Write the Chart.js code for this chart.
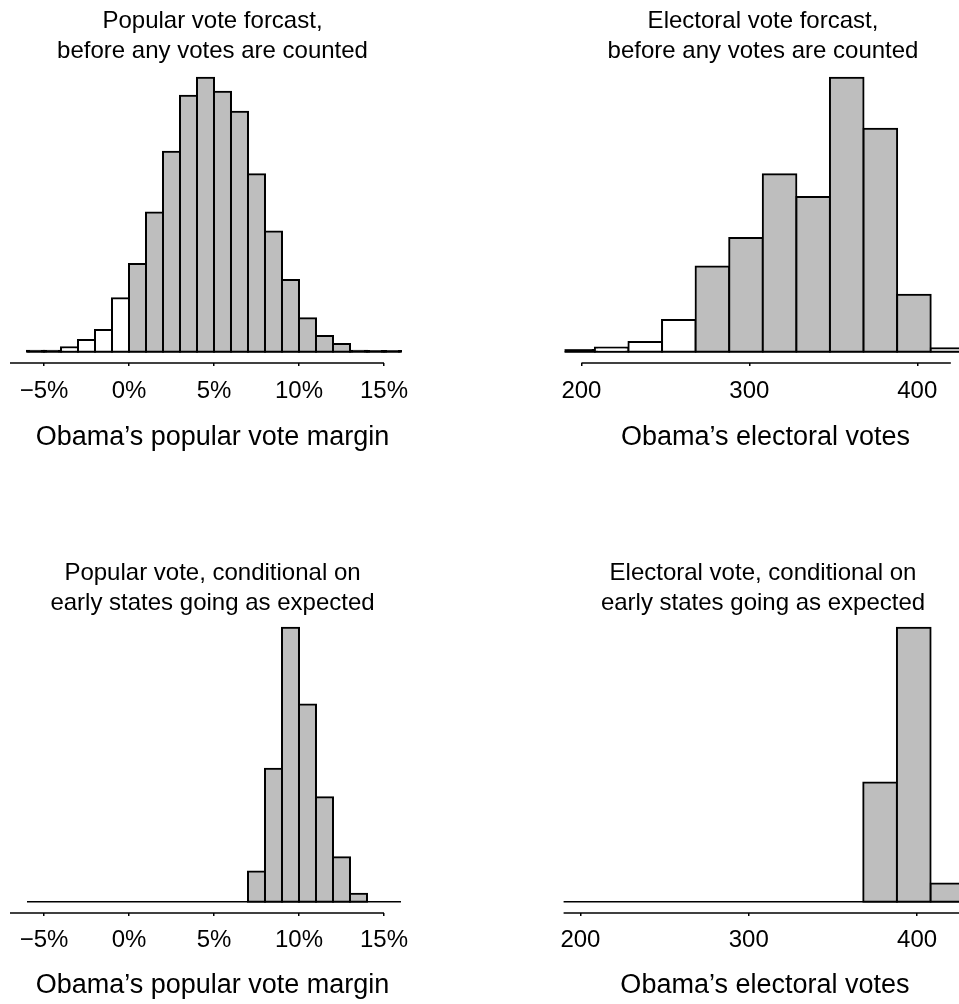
<!DOCTYPE html>
<html>
<head>
<meta charset="utf-8">
<script src="https://cdn.jsdelivr.net/npm/chart.js@4.4.1/dist/chart.umd.min.js"></script>
<style>
  html, body { margin: 0; padding: 0; background: #fff; overflow: hidden; }
  canvas { position: absolute; }
</style>
</head>
<body>
<canvas id="popBefore" width="425" height="458" style="left:0px;top:0px"></canvas>
<canvas id="evBefore" width="426" height="458" style="left:550px;top:0px"></canvas>
<canvas id="popAfter" width="425" height="458" style="left:0px;top:550px"></canvas>
<canvas id="evAfter" width="426" height="458" style="left:550px;top:550px"></canvas>
<script>
// popular vote margin, bins of 1% (lower edges), share of simulations in %
const popBins = [-6, -5, -4, -3, -2, -1, 0, 1, 2, 3, 4, 5, 6, 7, 8, 9, 10, 11, 12, 13, 14, 15];
const popBefore = [0.05, 0.05, 0.22, 0.59, 1.10, 2.70, 4.43, 7.04, 10.11, 12.94, 13.85, 13.14,
  12.13, 8.97, 6.07, 3.62, 1.69, 0.79, 0.39, 0.05, 0.03, 0.03];
const popAfter = [0, 0, 0, 0, 0, 0, 0, 0, 0, 0, 0, 0, 0, 3.8, 16.8, 34.6, 24.9, 13.2, 5.6, 1.0, 0, 0];

// electoral votes, bins of 20 (lower edges)
const evBins = [188, 208, 228, 248, 268, 288, 308, 328, 348, 368, 388, 408];
const evBefore = [0.15, 0.38, 0.85, 2.8, 7.5, 10.0, 15.6, 13.6, 24.1, 19.6, 5.0, 0.3];
const evAfter = [0, 0, 0, 0, 0, 0, 0, 0, 0, 29.0, 66.6, 4.4];

const popTicks = [-5, 0, 5, 10, 15];
const popTickLabels = ['\u22125%', '0%', '5%', '10%', '15%'];
const evTicks = [200, 300, 400];
const evTickLabels = ['200', '300', '400'];

Chart.defaults.font.family = "'Liberation Sans', Arial, sans-serif";
Chart.defaults.color = '#000';

const GRAY = '#bebebe';

// axis line under the histogram, R style (offset below the bars)
const axisLine = {
  id: 'axisLine',
  afterDraw(chart, args, opts) {
    const {ctx, chartArea, scales: {x}} = chart;
    ctx.save();
    ctx.strokeStyle = '#000';
    ctx.lineWidth = 1.5;
    ctx.beginPath();
    ctx.moveTo(x.getPixelForValue(opts.from), chartArea.bottom);
    ctx.lineTo(x.getPixelForValue(opts.to), chartArea.bottom);
    ctx.stroke();
    ctx.restore();
  }
};

function histogram(id, o) {
  const top = Math.max(...o.values);
  const clip = {left: 0, top: 4, right: 4, bottom: 4};
  const shift = o.shift || 0;
  return new Chart(document.getElementById(id), {
    type: 'bar',
    data: {
      datasets: [{
        type: 'line',
        data: [{x: o.bins[0], y: 0}, {x: o.bins[o.bins.length - 1] + o.width, y: 0}],
        borderColor: '#000',
        borderWidth: 1.5,
        pointRadius: 0,
        order: 0,
        clip: clip
      }, {
        data: o.bins.map((b, i) => ({x: b + o.width / 2, y: o.values[i]})),
        backgroundColor: c => {
          const v = c.raw.y;
          if (v === 0) return 'rgba(0,0,0,0)';
          if (v < top * 0.01) return '#000';
          return c.raw.x < o.cut ? '#fff' : GRAY;
        },
        borderColor: '#000',
        borderWidth: 2,
        borderSkipped: false,
        inflateAmount: 1,
        barPercentage: 1,
        categoryPercentage: 1,
        order: 1,
        clip: clip
      }]
    },
    options: {
      responsive: false,
      animation: false,
      layout: {padding: {left: o.pad, right: o.pad, top: 0, bottom: 0}},
      plugins: {
        legend: {display: false},
        tooltip: {enabled: false},
        title: {
          display: true,
          text: o.title,
          color: '#000',
          font: {size: 24, weight: 'normal', lineHeight: 1.25},
          padding: {top: 6 + shift, bottom: 11.7 - shift}
        },
        axisLine: {from: o.axisFrom, to: o.axisTo}
      },
      scales: {
        x: {
          type: 'linear',
          min: o.min,
          max: o.max,
          offset: false,
          border: {display: false},
          grid: {offset: false, drawOnChartArea: false, drawTicks: true, tickLength: 3, color: '#000', lineWidth: 1.5},
          afterBuildTicks: s => { s.ticks = o.ticks.map(v => ({value: v})); },
          afterFit: s => { s.height = 95; },
          ticks: {
            color: '#000',
            font: {size: 24},
            padding: 11 - shift / 2,
            maxRotation: 0,
            autoSkip: false,
            callback: (v, i) => o.tickLabels[i]
          },
          title: {
            display: true,
            text: o.xTitle,
            color: '#000',
            font: {size: 27},
            padding: {top: 0, bottom: 4.5 + shift}
          }
        },
        y: {display: false, min: -top * 0.0412, max: top}
      }
    },
    plugins: [axisLine]
  });
}

const popView = {bins: popBins, width: 1, cut: 0, min: -7, max: 16.824, pad: 10,
  ticks: popTicks, tickLabels: popTickLabels, xTitle: 'Obama\u2019s popular vote margin'};
const evView = {bins: evBins, width: 20, cut: 270, min: 190, max: 429.2, pad: 9.7,
  ticks: evTicks, tickLabels: evTickLabels, xTitle: 'Obama\u2019s electoral votes'};

histogram('popBefore', Object.assign({}, popView, {
  values: popBefore, axisFrom: -7, axisTo: 15,
  title: ['Popular vote forcast,', 'before any votes are counted']}));
histogram('evBefore', Object.assign({}, evView, {
  values: evBefore, axisFrom: 200, axisTo: 420,
  title: ['Electoral vote forcast,', 'before any votes are counted']}));
histogram('popAfter', Object.assign({}, popView, {
  values: popAfter, axisFrom: -7, axisTo: 15, shift: 2,
  title: ['Popular vote, conditional on', 'early states going as expected']}));
histogram('evAfter', Object.assign({}, evView, {
  values: evAfter, axisFrom: 190, axisTo: 429.2, shift: 2,
  title: ['Electoral vote, conditional on', 'early states going as expected']}));
</script>
</body>
</html>
